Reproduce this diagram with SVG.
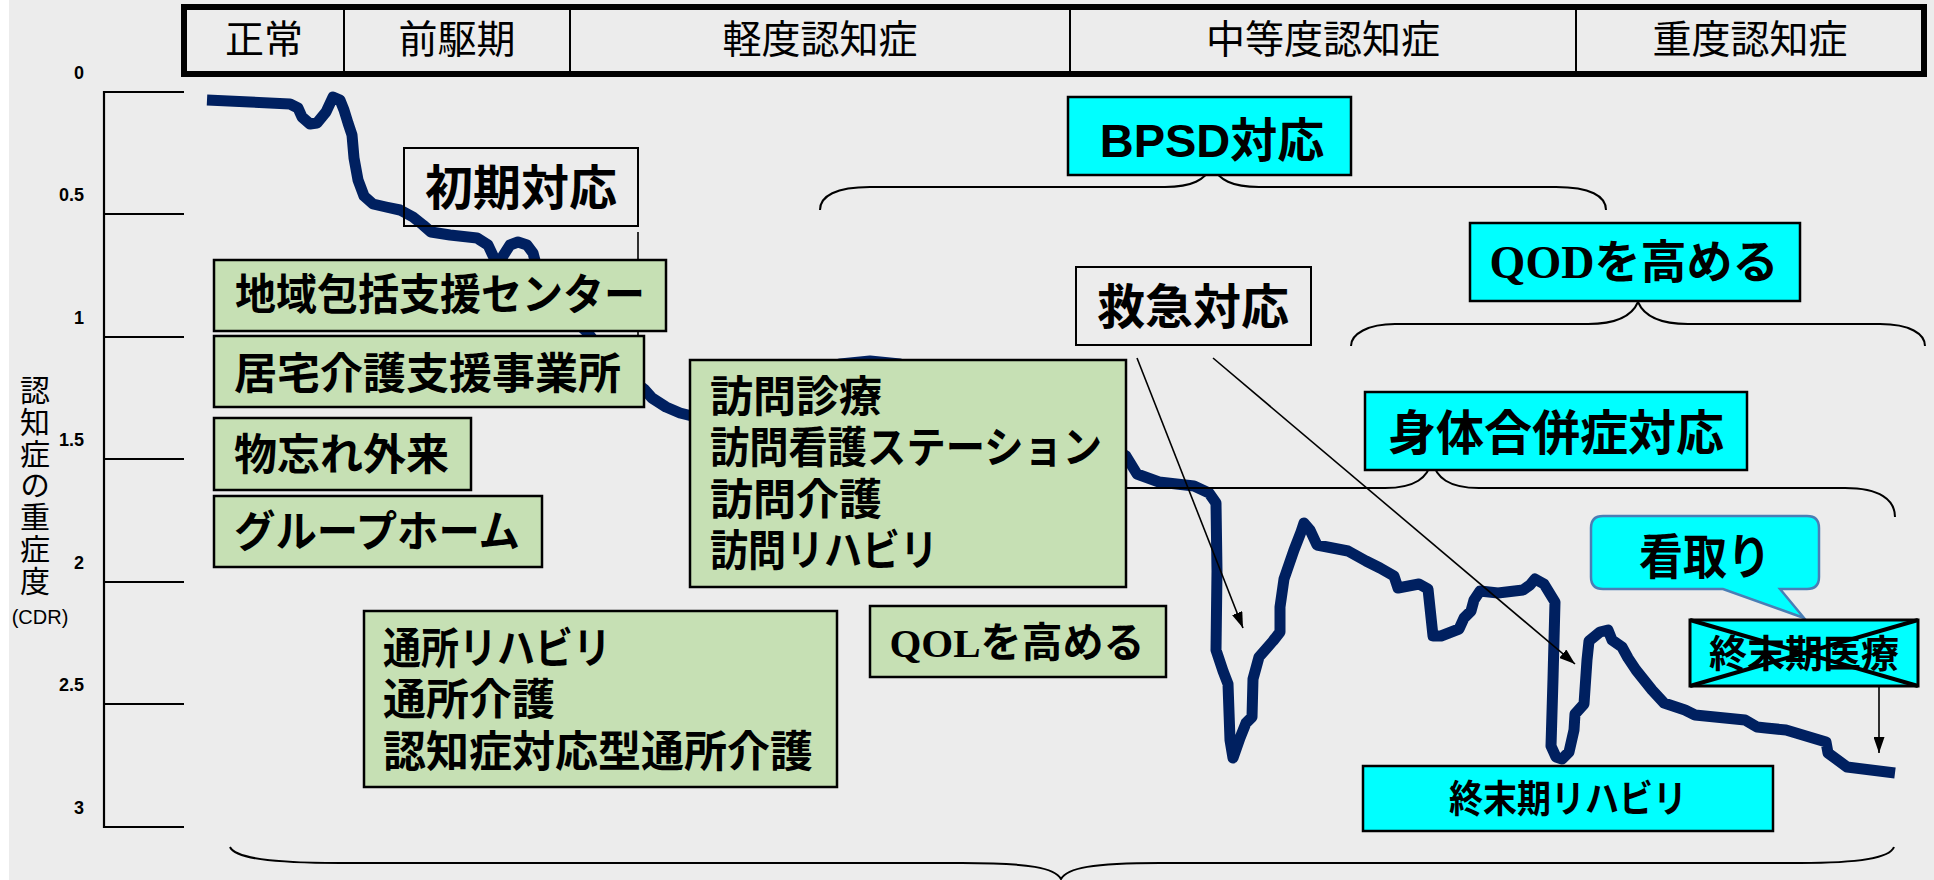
<svg xmlns="http://www.w3.org/2000/svg" width="1934" height="880" viewBox="0 0 1934 880">
<defs>
<style>
.jp{font-family:"Noto Sans CJK JP","Noto Sans CJK SC",sans-serif;fill:#000}
.hdr{font-size:39px;text-anchor:middle}
.g{fill:#c6e0b4;stroke:#000;stroke-width:2.5}
.c{fill:#00ffff;stroke:#000;stroke-width:2.5}
.w{fill:none;stroke:#000;stroke-width:2}
.lst{font-size:43px;font-weight:bold}
.ttl{font-size:48px;font-weight:bold;text-anchor:middle}
.br{fill:none;stroke:#000;stroke-width:2}
.tk{font-family:"Liberation Sans",Arial,sans-serif;font-weight:bold;font-size:18px;text-anchor:end;fill:#000}
.ln{stroke:#000;stroke-width:1.6;fill:none}
.serif{font-family:"Liberation Serif","Times New Roman",serif;font-weight:bold}
</style>
<marker id="ah" viewBox="0 0 16 11" refX="16" refY="5.5" markerWidth="16" markerHeight="11" markerUnits="userSpaceOnUse" orient="auto"><path d="M0,0 L16,5.5 L0,11 z" fill="#000"/></marker>
</defs>
<rect x="0" y="0" width="1934" height="880" fill="#ffffff"/>
<rect x="9" y="0" width="1925" height="880" fill="#ececec"/>

<g id="header">
<rect x="184" y="7" width="1740" height="67" fill="none" stroke="#000" stroke-width="6"/>
<g stroke="#000" stroke-width="2">
<line x1="344" y1="7" x2="344" y2="74"/>
<line x1="570" y1="7" x2="570" y2="74"/>
<line x1="1070" y1="7" x2="1070" y2="74"/>
<line x1="1576" y1="7" x2="1576" y2="74"/>
</g>
<text class="jp hdr" x="264" y="53">正常</text>
<text class="jp hdr" x="457" y="53">前駆期</text>
<text class="jp hdr" x="820" y="53">軽度認知症</text>
<text class="jp hdr" x="1323" y="53">中等度認知症</text>
<text class="jp hdr" x="1750" y="53">重度認知症</text>
</g>

<g id="axis">
<g stroke="#000" stroke-width="2.2">
<line x1="104" y1="91" x2="104" y2="828"/>
<line x1="103" y1="92" x2="184" y2="92"/>
<line x1="103" y1="214" x2="184" y2="214"/>
<line x1="103" y1="337" x2="184" y2="337"/>
<line x1="103" y1="459" x2="184" y2="459"/>
<line x1="103" y1="582" x2="184" y2="582"/>
<line x1="103" y1="704" x2="184" y2="704"/>
<line x1="103" y1="827" x2="184" y2="827"/>
</g>
<text class="tk" x="84" y="79">0</text>
<text class="tk" x="84" y="201">0.5</text>
<text class="tk" x="84" y="324">1</text>
<text class="tk" x="84" y="446">1.5</text>
<text class="tk" x="84" y="569">2</text>
<text class="tk" x="84" y="691">2.5</text>
<text class="tk" x="84" y="814">3</text>
<text class="jp" x="35" y="375" font-size="30" writing-mode="vertical-rl" letter-spacing="1.7">認知症の重症度</text>
<text x="40" y="624" font-family="Liberation Sans, Arial, sans-serif" font-size="20" text-anchor="middle" fill="#000">(CDR)</text>
</g>

<g id="connectors">
<path id="curve" fill="none" stroke="#002060" stroke-width="11" stroke-linejoin="round" stroke-linecap="butt" d="M207,100 L250,102 L290,104 L298,108 L302,117 L310,124 L317,123 L326,112 L333,97 L340,100 L344,110 L348,123 L352,135 L354,158 L358,180 L364,196 L373,204 L386,207 L400,210 L413,217 L423,225 L431,232 L450,235 L477,238 L488,245 L495,260 L498,272 L503,256 L510,245 L518,242 L527,245 L533,253 L537,268 L548,292 L570,316 L588,333 L605,355 L630,378 L644,389 L652,398 L666,407 L680,413 L692,416 L740,400 L800,378 L840,364 L870,361 L900,364 L935,380 L1020,410 L1100,440 L1126,456 L1137,474 L1159,482 L1194,486 L1209,493 L1216,503 L1217,571 L1216,650 L1223,671 L1228,684 L1230,740 L1233,758 L1240,738 L1246,723 L1252,717 L1253,679 L1259,657 L1273,641 L1280,632 L1280,607 L1284,579 L1294,550 L1301,532 L1304,523 L1310,530 L1317,545 L1348,551 L1366,561 L1380,568 L1394,576 L1398,588 L1419,584 L1428,589 L1433,636 L1441,636 L1459,629 L1464,618 L1471,611 L1474,600 L1480,591 L1498,593 L1523,590 L1530,585 L1535,579 L1544,584 L1555,602 L1553,679 L1551,746 L1556,757 L1562,759 L1569,752 L1574,730 L1575,714 L1584,704 L1587,660 L1589,641 L1600,632 L1608,630 L1612,640 L1622,647 L1628,658 L1636,670 L1652,690 L1664,703 L1685,710 L1695,715 L1745,720 L1757,727 L1766,728 L1786,730 L1826,742 L1828,753 L1847,767 L1895,773"/>
<line class="ln" x1="638" y1="232" x2="638" y2="345"/>
<path class="br" d="M820,210 C820,196 836,187 870,187 H1165 C1192,187 1205,180 1212,166 C1219,180 1232,187 1259,187 H1556 C1590,187 1606,196 1606,210"/>
<path class="br" d="M1351,346 C1351,334 1368,324 1395,324 H1588 C1616,324 1632,316 1638,302 C1644,316 1660,324 1688,324 H1880 C1910,324 1925,334 1925,346"/>
<path class="br" d="M969,517 C969,500 990,488 1020,488 H1385 C1415,488 1428,478 1432,460 C1436,478 1449,488 1479,488 H1845 C1880,488 1895,500 1895,517"/>
<path class="br" d="M230,847 C235,858 270,863 340,863 H962 C1030,863 1055,868 1061,879 C1067,868 1092,863 1160,863 H1800 C1860,863 1890,858 1894,847"/>
</g>

<g id="n-chiiki"><rect class="g" x="214" y="260" width="452" height="71"/><text class="jp lst" x="235" y="310" textLength="410" lengthAdjust="spacingAndGlyphs">地域包括支援センター</text></g>
<g id="n-kyotaku"><rect class="g" x="214" y="336" width="430" height="71"/><text class="jp lst" x="234" y="389">居宅介護支援事業所</text></g>
<g id="n-monowasure"><rect class="g" x="214" y="418" width="257" height="72"/><text class="jp lst" x="234" y="470">物忘れ外来</text></g>
<g id="n-gh"><rect class="g" x="214" y="496" width="328" height="71"/><text class="jp lst" x="234" y="547" textLength="286" lengthAdjust="spacingAndGlyphs">グループホーム</text></g>
<g id="n-houmon"><rect class="g" x="690" y="360" width="436" height="227"/>
<text class="jp lst"><tspan x="710" y="412">訪問診療</tspan><tspan x="710" y="463" textLength="392" lengthAdjust="spacingAndGlyphs">訪問看護ステーション</tspan><tspan x="710" y="515">訪問介護</tspan><tspan x="710" y="566" textLength="228" lengthAdjust="spacingAndGlyphs">訪問リハビリ</tspan></text></g>
<g id="n-tsusho"><rect class="g" x="364" y="611" width="473" height="176"/>
<text class="jp lst"><tspan x="383" y="664" textLength="228" lengthAdjust="spacingAndGlyphs">通所リハビリ</tspan><tspan x="383" y="715">通所介護</tspan><tspan x="383" y="767">認知症対応型通所介護</tspan></text></g>
<g id="n-qol"><rect class="g" x="870" y="606" width="296" height="71"/><text class="jp" x="1017" y="657" font-size="41" text-anchor="middle" font-weight="bold"><tspan class="serif">QOL</tspan>を高める</text></g>

<g id="n-shoki"><rect class="w" x="404" y="148" width="234" height="78"/><text class="jp ttl" x="521" y="205">初期対応</text></g>
<g id="n-kyukyu"><rect class="w" x="1076" y="267" width="235" height="78"/><text class="jp ttl" x="1193" y="324">救急対応</text></g>

<g id="arrows">
<line class="ln" x1="1137" y1="358" x2="1243" y2="628" marker-end="url(#ah)"/>
<line class="ln" x1="1213" y1="358" x2="1575" y2="664" marker-end="url(#ah)"/>
<line class="ln" x1="1879" y1="686" x2="1879" y2="753" marker-end="url(#ah)"/>
</g>

<g id="n-bpsd"><rect class="c" x="1068" y="97" width="283" height="78"/><text x="1212" y="157" font-size="47" font-weight="bold" text-anchor="middle" font-family="Liberation Sans, Noto Sans CJK JP, sans-serif" fill="#000">BPSD<tspan font-family="Noto Sans CJK JP, sans-serif">対応</tspan></text></g>
<g id="n-qod"><rect class="c" x="1470" y="223" width="330" height="78"/><text class="jp" x="1634" y="278" font-size="46" text-anchor="middle" font-weight="bold"><tspan class="serif">QOD</tspan>を高める</text></g>
<g id="n-shintai"><rect class="c" x="1365" y="392" width="382" height="78"/><text class="jp ttl" x="1556" y="450">身体合併症対応</text></g>
<g id="n-mitori"><path d="M1603,516 H1807 Q1819,516 1819,528 V577 Q1819,589 1807,589 H1780 L1804,618 L1723,589 H1603 Q1591,589 1591,577 V528 Q1591,516 1603,516 Z" fill="#00ffff" stroke="#4a7eb5" stroke-width="2.5"/><text class="jp ttl" x="1705" y="574" textLength="132" lengthAdjust="spacingAndGlyphs">看取り</text></g>
<g id="n-shumatsu-iryo"><rect x="1690" y="620" width="228" height="66" fill="#00ffff" stroke="#000" stroke-width="3"/><text class="jp" x="1804" y="667" font-size="38" font-weight="bold" text-anchor="middle">終末期医療</text>
<line x1="1690" y1="620" x2="1918" y2="686" stroke="#000" stroke-width="4"/><line x1="1690" y1="686" x2="1918" y2="620" stroke="#000" stroke-width="4"/></g>
<g id="n-shumatsu-reha"><rect class="c" x="1363" y="766" width="410" height="65"/><text class="jp" x="1568" y="812" font-size="38" font-weight="bold" text-anchor="middle" textLength="238" lengthAdjust="spacingAndGlyphs">終末期リハビリ</text></g>
</svg>
